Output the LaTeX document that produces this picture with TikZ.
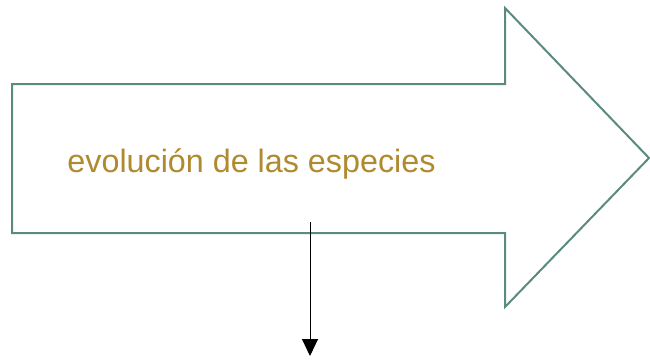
\documentclass[tikz,border=0pt]{standalone}
\usepackage{fontspec}
\setmainfont{Liberation Sans}
\usetikzlibrary{arrows.meta}
\definecolor{arrowline}{HTML}{5B8A80}
\definecolor{goldtext}{HTML}{B08A2E}
\tikzset{
  bigarrow/.style={draw=arrowline, line width=2pt, fill=white, line join=miter},
  label/.style={text=goldtext, font=\fontsize{32.3}{38}\selectfont, inner sep=0pt, anchor=base},
  connector/.style={draw=black, line width=1pt, -{Triangle[length=17pt,width=16pt]}}
}
\begin{document}
\begin{tikzpicture}[x=1pt,y=-1pt]
\useasboundingbox (0,0) rectangle (650,360);
\draw[bigarrow] (12,84) -- (505,84) -- (505,8) -- (649,158) -- (505,307) -- (505,233) -- (12,233) -- cycle;
\node[label] (t) at (251.5,172) {evolución de las especies};
\coordinate (s) at (310,222);
\coordinate (e) at (310,356);
\draw[connector] (s) -- (e);
\end{tikzpicture}
\end{document}
